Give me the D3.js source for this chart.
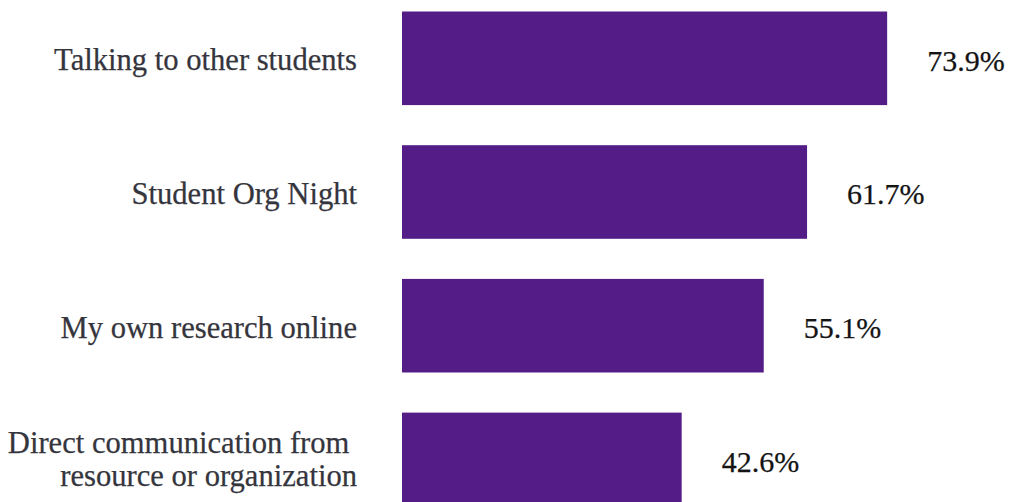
<!DOCTYPE html>
<html>
<head>
<meta charset="utf-8">
<script src="https://cdn.jsdelivr.net/npm/d3@7"></script>
<style>
  html, body { margin: 0; padding: 0; background: #ffffff; }
  svg { display: block; }
  text { font-family: "Liberation Serif", "Times New Roman", serif; white-space: pre; }
</style>
</head>
<body>
<svg id="chart" width="1010" height="502"></svg>
<script>
// How students heard about campus resources and organizations
const categories = [
  "Talking to other students",
  "Student Org Night",
  "My own research online",
  "Direct communication from resource or organization"
];
// Category labels as they are broken onto lines
const categoryLines = [
  ["Talking to other students"],
  ["Student Org Night"],
  ["My own research online"],
  ["Direct communication from ", "resource or organization"]
];
const values = [73.9, 61.7, 55.1, 42.6];
const valueLabels = ["73.9%", "61.7%", "55.1%", "42.6%"];

const svg = d3.select("#chart");
const barColor = "#531c86";

const y = d3.scaleBand()
  .domain(categories)
  .range([11.5, 506.2])
  .paddingInner(0.3)
  .paddingOuter(0);

const x = d3.scaleLinear()
  .domain([0, 100])
  .range([402, 1058.5]);

const rows = categories.map((c, i) => ({
  cat: c, lines: categoryLines[i], value: values[i], label: valueLabels[i]
}));

// Bars
svg.append("g").selectAll("rect")
  .data(rows)
  .join("rect")
  .attr("x", x(0))
  .attr("y", d => y(d.cat))
  .attr("width", d => x(d.value) - x(0))
  .attr("height", y.bandwidth())
  .attr("fill", barColor);

// Category labels, right-aligned to the left of the bars
const lineGap = 33;
svg.append("g").selectAll("text")
  .data(rows)
  .join("text")
  .attr("text-anchor", "end")
  .attr("font-size", 30.6)
  .attr("fill", "#35353d")
  .attr("stroke", "#35353d")
  .attr("stroke-width", 0.25)
  .each(function (d) {
    const cy = y(d.cat) + y.bandwidth() / 2 + 12;
    const n = d.lines.length;
    d3.select(this).selectAll("tspan")
      .data(d.lines)
      .join("tspan")
      .attr("x", 357)
      .attr("y", (l, k) => cy + (k - (n - 1) / 2) * lineGap - (n > 1 ? 1.5 : 0))
      .text(l => l);
  });

// Value labels to the right of each bar
svg.append("g").selectAll("text")
  .data(rows)
  .join("text")
  .attr("x", d => x(d.value) + 40)
  .attr("y", d => y(d.cat) + y.bandwidth() / 2 + 12.5)
  .attr("font-size", 30)
  .attr("fill", "#141414")
  .attr("stroke", "#141414")
  .attr("stroke-width", 0.25)
  .text(d => d.label);
</script>
</body>
</html>
